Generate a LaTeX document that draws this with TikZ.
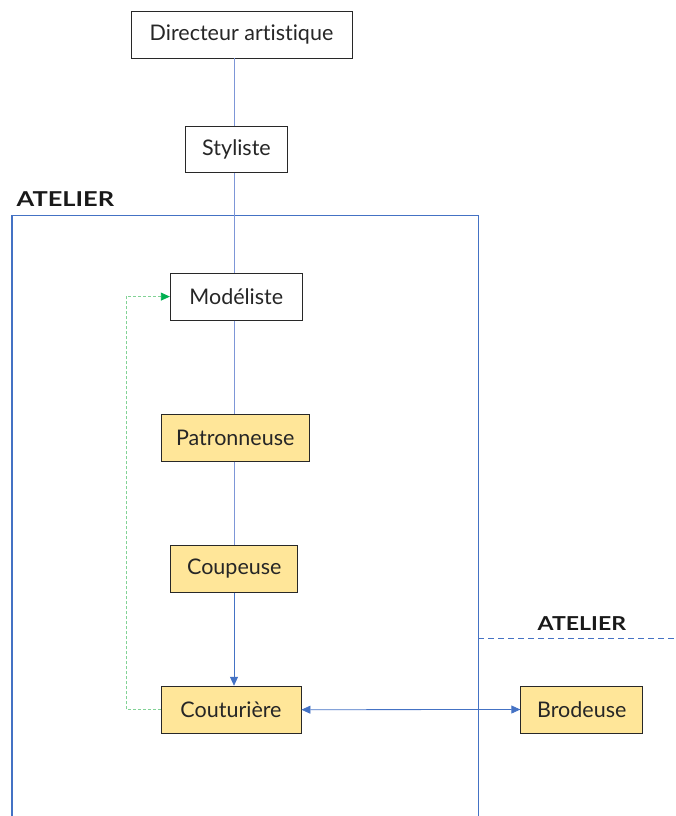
\documentclass[tikz,border=0pt]{standalone}
\usepackage{fontspec}
\setmainfont{Lato}[Ligatures={NoCommon}]
\usetikzlibrary{arrows.meta,calc}
\definecolor{lineblue}{RGB}{125,150,215}
\definecolor{frameblue}{RGB}{68,114,196}
\definecolor{boxyellow}{RGB}{255,230,153}
\definecolor{arrowgreen}{RGB}{0,176,80}
\definecolor{dashgreen}{RGB}{130,210,150}
\definecolor{boxborder}{RGB}{40,40,40}
\tikzset{
  rolebox/.style={draw=boxborder, line width=0.9pt, inner sep=0pt, font=\fontsize{21.5}{24}\selectfont, text=black!85},
  whitebox/.style={rolebox, fill=white},
  yellowbox/.style={rolebox, fill=boxyellow},
  link/.style={draw=lineblue, line width=0.8pt},
  framelabel/.style={text=black!90, inner sep=0pt, anchor=base west}
}
\begin{document}
\begin{tikzpicture}[x=1pt,y=-1pt]
\useasboundingbox (0,0) rectangle (675,816);
% frames
\draw[frameblue, line width=1.5pt] (12,820) -- (12,215.3) -- (478.3,215.3) -- (478.3,820);
\draw[frameblue, line width=1.4pt, dash pattern=on 6pt off 4pt] (478.3,638.3) -- (676,638.3);
\node[framelabel, font=\bfseries\fontsize{20.5}{22}\selectfont] (lab1) at (16.5,206.7) {\scalebox{1.24}[1]{ATELIER}};
\node[framelabel, font=\bfseries\fontsize{19.2}{22}\selectfont] (lab2) at (537.5,630.7) {\scalebox{1.2}[1]{ATELIER}};
% nodes
\node[whitebox, minimum width=221pt, minimum height=47pt] (dir) at (241.5,34.5) {Directeur artistique};
\node[whitebox, minimum width=102pt, minimum height=46pt] (sty) at (236.5,149.3) {Styliste};
\node[whitebox, minimum width=132pt, minimum height=47pt] (mod) at (236.3,296.6) {Modéliste};
\node[yellowbox, minimum width=148pt, minimum height=47pt] (pat) at (235.2,437.7) {Patronneuse};
\node[yellowbox, minimum width=127pt, minimum height=47pt] (cou) at (234.3,568.7) {Coupeuse};
\node[yellowbox, minimum width=140pt, minimum height=47pt] (ctr) at (231,709.7) {Couturière};
\node[yellowbox, minimum width=122pt, minimum height=47pt] (bro) at (581.8,709.5) {Brodeuse};
\coordinate (spine) at (234,0);
\coordinate (gc) at (126,296.6);
% links
\draw[link] (dir.south -| spine) -- (sty.north -| spine);
\draw[link] (sty.south -| spine) -- (mod.north -| spine);
\draw[link] (mod.south -| spine) -- (pat.north -| spine);
\draw[link] (pat.south -| spine) -- (cou.north -| spine);
\draw[link, -{Triangle[length=9pt,width=8pt]}, color=frameblue] (cou.south -| spine) -- (ctr.north -| spine);
\draw[link, color=frameblue, {Triangle[length=9pt,width=8pt]}-{Triangle[length=9pt,width=8pt]}] (ctr.east) -- (bro.west);
\draw[draw=dashgreen, line width=0.8pt, dash pattern=on 3pt off 2pt, -{Triangle[length=9pt,width=8pt,fill=arrowgreen,color=arrowgreen]}] (ctr.west) -| (gc) -- (mod.west);
\end{tikzpicture}
\end{document}
